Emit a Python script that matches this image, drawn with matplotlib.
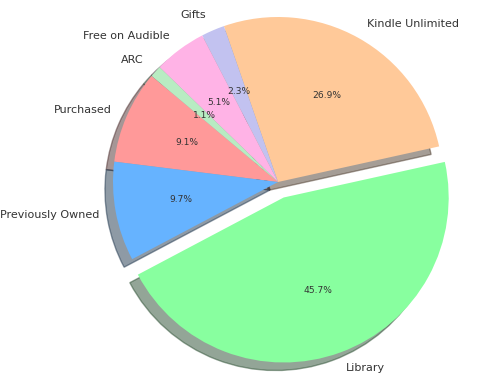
import matplotlib
matplotlib.use('Agg')

import matplotlib.pyplot as plt

sources = ['Purchased', 'Previously Owned', 'Library', 'Kindle Unlimited',
           'Gifts', 'Free on Audible', 'ARC']
counts = [16, 17, 80, 47, 4, 9, 2]
colors = ['#ff9999', '#66b3ff', '#88ff9f', '#ffc999',
          '#c2c2f0', '#ffb3e6', '#b8ecc2']
explode = [0, 0, 0.1, 0, 0, 0, 0]

W, H = 483, 388
cx, cy, r = 278, 182, 165  # pie centre / radius in pixels

fig = plt.figure(figsize=(W / 100, H / 100), dpi=100)
ax = fig.add_axes([0, 0, 1, 1])

wedges, texts, autotexts = ax.pie(
    counts, labels=sources, colors=colors, explode=explode,
    autopct='%1.1f%%', startangle=140,
    shadow={'ox': -0.035, 'oy': -0.035},
    textprops={'fontsize': 8, 'color': '#333333'})
for t in autotexts:
    t.set_fontsize(6.6)

ax.set_aspect('equal')
ax.set_xlim(-cx / r, (W - cx) / r)
ax.set_ylim(-(H - cy) / r, cy / r)
ax.axis('off')

fig.savefig('out.png', dpi=100)
